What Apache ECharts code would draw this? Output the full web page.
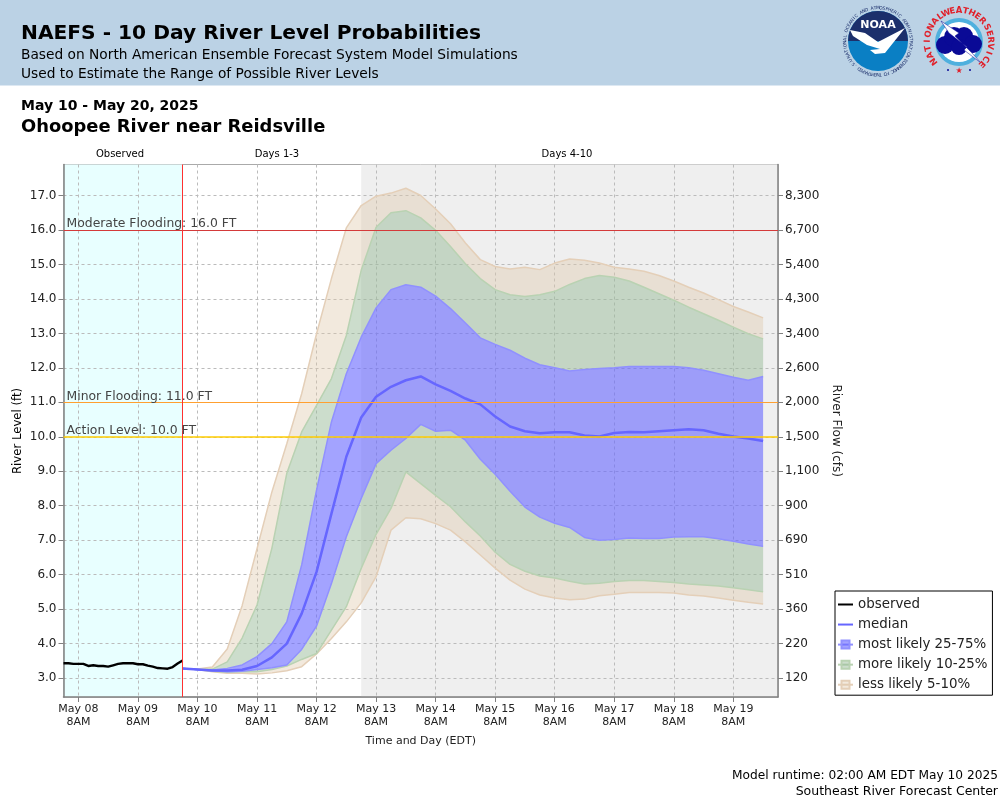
<!DOCTYPE html>
<html>

<head>
    <meta charset="utf-8">
    <title>NAEFS - 10 Day River Level Probabilities</title>
    <script src="https://cdn.jsdelivr.net/npm/echarts@6/dist/echarts.min.js"></script>
    <style>
        html, body { margin: 0; padding: 0; background: #fff; }
    </style>
</head>

<body>
<div id="main" style="position:absolute;top:0;left:0;width:1000px;height:800px;"></div>
<script type="text/javascript">

    // tick labels, stage and flow axes share the same positions
    var stageTicks = [3, 4, 5, 6, 7, 8, 9, 10, 11, 12, 13, 14, 15, 16, 17];
    var flowLabels = ['120', '220', '360', '510', '690', '900', '1,100', '1,500', '2,000', '2,600', '3,400', '4,300', '5,400', '6,700', '8,300'];
    var dayLabels = ['May 08', 'May 09', 'May 10', 'May 11', 'May 12', 'May 13', 'May 14', 'May 15', 'May 16', 'May 17', 'May 18', 'May 19'];

    // observed stage every 2 hours, from May 08 02:00
    var observed = [3.43, 3.43, 3.41, 3.41, 3.41, 3.35, 3.37, 3.35, 3.35, 3.33, 3.37, 3.41, 3.43,
        3.43, 3.43, 3.40, 3.40, 3.36, 3.33, 3.29, 3.28, 3.27, 3.32, 3.42, 3.51];

    // forecast percentiles every 6 hours, from May 10 02:00
    var median = [3.28, 3.25, 3.22, 3.22, 3.24, 3.35, 3.60, 4.00, 4.87, 6.08, 7.77, 9.42, 10.56, 11.16, 11.45, 11.64, 11.75, 11.52, 11.33, 11.11,
        10.94, 10.59, 10.30, 10.16, 10.10, 10.13, 10.13, 10.04, 10.01, 10.11, 10.14, 10.13, 10.16, 10.19, 10.22, 10.19, 10.09, 10.01, 9.95, 9.88];
    var p05 = [3.28, 3.25, 3.18, 3.14, 3.14, 3.12, 3.15, 3.21, 3.33, 3.70, 4.15, 4.63, 5.18, 5.94, 7.29, 7.65, 7.62, 7.48, 7.29, 6.95,
        6.57, 6.19, 5.84, 5.58, 5.41, 5.32, 5.27, 5.29, 5.39, 5.43, 5.48, 5.48, 5.48, 5.47, 5.41, 5.38, 5.32, 5.26, 5.20, 5.15];
    var p10 = [3.28, 3.25, 3.20, 3.17, 3.18, 3.18, 3.25, 3.35, 3.54, 3.71, 4.39, 5.07, 6.18, 7.17, 7.92, 8.98, 8.64, 8.30, 7.97, 7.53,
        7.12, 6.65, 6.30, 6.10, 5.96, 5.90, 5.81, 5.73, 5.75, 5.80, 5.83, 5.83, 5.80, 5.77, 5.73, 5.70, 5.67, 5.62, 5.56, 5.50];
    var p25 = [3.28, 3.25, 3.21, 3.18, 3.20, 3.25, 3.30, 3.38, 3.83, 4.51, 5.74, 7.10, 8.21, 9.22, 9.61, 9.95, 10.36, 10.16, 10.19, 9.90,
        9.35, 8.91, 8.42, 7.96, 7.67, 7.49, 7.37, 7.08, 7.00, 7.02, 7.06, 7.05, 7.05, 7.09, 7.10, 7.10, 7.04, 6.97, 6.89, 6.82];
    var p75 = [3.28, 3.25, 3.23, 3.28, 3.38, 3.62, 4.00, 4.63, 6.28, 8.45, 10.43, 11.83, 12.89, 13.74, 14.27, 14.41, 14.34, 14.08, 13.72, 13.30,
        12.87, 12.68, 12.51, 12.28, 12.09, 12.00, 11.91, 11.95, 11.98, 12.00, 12.04, 12.04, 12.04, 12.04, 12.00, 11.93, 11.83, 11.73, 11.64, 11.75];
    var p90 = [3.28, 3.25, 3.26, 3.47, 4.16, 5.12, 6.77, 8.94, 10.14, 10.91, 11.69, 12.94, 14.83, 16.08, 16.50, 16.56, 16.35, 15.99, 15.52, 15.02,
        14.59, 14.27, 14.12, 14.07, 14.12, 14.22, 14.42, 14.59, 14.68, 14.63, 14.52, 14.34, 14.15, 13.96, 13.76, 13.57, 13.38, 13.18, 12.99, 12.84];
    var p95 = [3.28, 3.26, 3.32, 3.84, 5.10, 6.75, 8.40, 9.80, 11.25, 12.99, 14.59, 16.06, 16.71, 16.98, 17.07, 17.21, 17.00, 16.61, 16.18, 15.62,
        15.14, 14.94, 14.87, 14.92, 14.85, 15.04, 15.16, 15.12, 15.04, 14.92, 14.87, 14.80, 14.68, 14.52, 14.34, 14.17, 13.98, 13.78, 13.62, 13.45];

    var floodNames = ['Moderate Flooding: 16.0 FT', 'Minor Flooding: 11.0 FT', 'Action Level: 10.0 FT'];
    var floodLevels = [16, 11, 10];
    var floodColors = ['#d43a3a', '#ffa030', '#ffcc00'];

    var HOUR = 3600 * 1000;
    var axisStart = new Date(2025, 4, 8, 2).getTime();
    var axisEnd = new Date(2025, 4, 20, 2).getTime();
    var forecastStart = new Date(2025, 4, 10, 2).getTime();
    var fadeStart = new Date(2025, 4, 13, 2).getTime();
    var font = '"DejaVu Sans"';

    var dayTicks = dayLabels.map(function (label, i) {
        return new Date(2025, 4, 8 + i, 8).getTime();
    });

    function observedPairs() {
        return observed.map(function (v, i) {
            return [axisStart + i * 2 * HOUR, v];
        });
    }

    function forecastPairs(values) {
        return values.map(function (v, i) {
            return [forecastStart + i * 6 * HOUR, v];
        });
    }

    // one polygon between two percentile curves, drawn once for the whole series
    function bandSeries(name, upper, lower, fill) {
        var top = forecastPairs(upper);
        var bottom = forecastPairs(lower).reverse();
        return {
            name: name,
            type: 'custom',
            coordinateSystem: 'cartesian2d',
            silent: true,
            data: top,
            encode: {x: 0, y: 1},
            renderItem: function (params, api) {
                if (params.dataIndex !== 0) return null;
                return {
                    type: 'polygon',
                    shape: {points: top.concat(bottom).map(function (p) { return api.coord(p); })},
                    style: {fill: fill}
                };
            }
        };
    }

    function edgeSeries(name, values, color, swatch) {
        return {
            name: name,
            type: 'line',
            data: forecastPairs(values),
            symbol: 'rect',
            showSymbol: false,
            silent: true,
            lineStyle: {color: color, width: 1.5},
            itemStyle: {color: swatch, borderColor: color, borderWidth: 1}
        };
    }

    var tan = 'rgba(222,200,170,0.4)', green = 'rgba(153,187,153,0.5)', blue = 'rgba(102,102,255,0.6)';
    var tanEdge = '#e4cfb8', greenEdge = '#b9d2b2', blueEdge = '#9090ff';

    var series = [
        {
            name: 'regions',
            type: 'line',
            data: [],
            markArea: {
                silent: true,
                data: [
                    [{xAxis: axisStart, itemStyle: {color: '#e8ffff'}}, {xAxis: forecastStart}],
                    [{xAxis: fadeStart, itemStyle: {color: '#efefef'}}, {xAxis: axisEnd}]
                ]
            }
        },
        bandSeries('band p05-p10', p10, p05, tan),
        bandSeries('band p10-p25', p25, p10, green),
        bandSeries('band p25-p75', p75, p25, blue),
        bandSeries('band p75-p90', p90, p75, green),
        bandSeries('band p90-p95', p95, p90, tan),
        edgeSeries('less likely 5-10%', p05, tanEdge, tan),
        edgeSeries('less upper', p95, tanEdge, tan),
        edgeSeries('more likely 10-25%', p10, greenEdge, green),
        edgeSeries('more upper', p90, greenEdge, green),
        edgeSeries('most likely 25-75%', p25, blueEdge, blue),
        edgeSeries('most upper', p75, blueEdge, blue),
        {
            name: 'median',
            type: 'line',
            data: forecastPairs(median),
            symbol: 'none',
            lineStyle: {color: '#6666ff', width: 2.5}
        },
        {
            name: 'observed',
            type: 'line',
            data: observedPairs(),
            symbol: 'none',
            lineStyle: {color: '#000', width: 2.4},
            markLine: {
                silent: true,
                symbol: 'none',
                animation: false,
                data: floodLevels.map(function (level, i) {
                    return {
                        yAxis: level,
                        lineStyle: {color: floodColors[i], width: i === 2 ? 1.5 : 1.2, type: 'solid'},
                        label: {
                            show: true,
                            position: 'insideStartTop',
                            formatter: floodNames[i],
                            distance: [3, 0],
                            color: '#444',
                            fontFamily: font,
                            fontSize: 12.4
                        }
                    };
                }).concat([{
                    xAxis: forecastStart,
                    lineStyle: {color: '#ff3030', width: 1, type: 'solid'},
                    label: {show: false}
                }])
            }
        }
    ];

    // header texts and logos
    function text(str, x, y, style, align) {
        return {
            type: 'text',
            silent: true,
            style: {text: str, x: x, y: y, font: style + ' ' + font, fill: '#000', textAlign: align || 'left', textVerticalAlign: 'middle'}
        };
    }

    function ringText(str, cx, cy, r, from, to, style, color) {
        return str.split('').map(function (ch, i) {
            var deg = from + (to - from) * i / (str.length - 1);
            var rad = deg * Math.PI / 180;
            return {
                type: 'text',
                silent: true,
                x: cx + r * Math.sin(rad),
                y: cy - r * Math.cos(rad),
                rotation: -rad,
                style: {text: ch, font: style + ' ' + font, fill: color, textAlign: 'center', textVerticalAlign: 'middle'}
            };
        });
    }

    function disc(cx, cy, r, color) {
        return {type: 'circle', silent: true, shape: {cx: cx, cy: cy, r: r}, style: {fill: color}};
    }

    var noaaLabel = text('NOAA', 878, 25, 'bold 11px', 'center');
    noaaLabel.style.fill = '#fff';
    var nwsStar = text('★', 959, 71, '8px', 'center');
    nwsStar.style.fill = '#e0202a';
    var stageName = text('River Level (ft)', 0, 0, '11.7px', 'center');
    stageName.x = 18;
    stageName.y = 431;
    stageName.rotation = Math.PI / 2;

    var graphics = [
        {type: 'rect', silent: true, z: -1, shape: {x: 0, y: 0, width: 1000, height: 85.5}, style: {fill: '#bbd2e5'}},
        text('NAEFS - 10 Day River Level Probabilities', 21, 34, 'bold 20.2px'),
        text('Based on North American Ensemble Forecast System Model Simulations', 21, 55, '13.75px'),
        text('Used to Estimate the Range of Possible River Levels', 21, 74, '13.75px'),
        text('May 10 - May 20, 2025', 21, 106, 'bold 14px'),
        text('Ohoopee River near Reidsville', 21, 127, 'bold 17.9px'),
        text('Observed', 120, 154, '10px', 'center'),
        text('Days 1-3', 277, 154, '10px', 'center'),
        text('Days 4-10', 567, 154, '10px', 'center'),
        text('Model runtime: 02:00 AM EDT May 10 2025', 998, 776, '12.2px', 'right'),
        text('Southeast River Forecast Center', 998, 792, '12.5px', 'right'),
        stageName,
        // NOAA
        disc(878, 41, 30, '#0a7fc4'),
        {type: 'sector', silent: true, shape: {cx: 878, cy: 41, r0: 0, r: 30, startAngle: Math.PI, endAngle: 2 * Math.PI}, style: {fill: '#1c2f6b'}},
        {type: 'polygon', silent: true, shape: {points: [[850, 30], [865, 33], [878, 42], [905, 28], [893, 43], [885, 53], [875, 54], [870, 50], [880, 49], [867, 45], [853, 36]]}, style: {fill: '#fff'}},
        noaaLabel
    ];
    graphics = graphics.concat(ringText('NATIONAL OCEANIC AND ATMOSPHERIC ADMINISTRATION', 878, 41, 33, -118, 118, '4.5px', '#1c2f6b'));
    graphics = graphics.concat(ringText('U.S. DEPARTMENT OF COMMERCE', 878, 41, 33.5, 235, 125, '4.5px', '#1c2f6b'));
    // NWS
    graphics = graphics.concat([
        disc(959, 42, 24, '#4fb0de'),
        disc(959, 42, 20, '#ffffff'),
        disc(945, 45, 9, '#0a0a96'), disc(954, 37, 10, '#0a0a96'), disc(964, 36, 9, '#0a0a96'),
        disc(973, 44, 9, '#0a0a96'), disc(959, 47, 8, '#0a0a96'),
        {type: 'polygon', silent: true, shape: {points: [[941, 21], [959, 33], [955, 36], [972, 53], [981, 63], [964, 50], [967, 47], [949, 33]]}, style: {fill: '#fff', stroke: '#0a0a96', lineWidth: 0.5}},
        nwsStar,
        disc(948, 70, 1, '#0a0a96'), disc(970, 70, 1, '#0a0a96')
    ]);
    graphics = graphics.concat(ringText('NATIONAL', 959, 42, 31.5, -128, -36, 'bold 8.5px', '#e0202a'));
    graphics = graphics.concat(ringText('WEATHER', 959, 42, 31.5, -24, 48, 'bold 8.5px', '#e0202a'));
    graphics = graphics.concat(ringText('SERVICE', 959, 42, 31.5, 62, 134, 'bold 8.5px', '#e0202a'));

    var myChart = echarts.init(document.getElementById('main'), null, {renderer: 'canvas'});

    function yAxis(position, labelFn, showSplit) {
        return {
            type: 'value',
            position: position,
            min: 2.45,
            max: 17.9,
            z: 1.5,
            axisLine: {show: true, onZero: false, lineStyle: {color: '#808080', width: 1.5}},
            axisTick: {show: true, length: 5, customValues: stageTicks, lineStyle: {color: '#808080', width: 1}},
            axisLabel: {customValues: stageTicks, color: '#222', fontFamily: font, fontSize: 12, margin: 7, formatter: labelFn},
            splitLine: {show: showSplit, lineStyle: {color: '#bbb', type: [3, 3], width: 1}}
        };
    }

    myChart.setOption({
        animation: false,
        textStyle: {fontFamily: font},
        graphic: graphics,
        grid: {left: 63.5, right: 222, top: 164.5, bottom: 103, show: true, borderColor: '#aaa', borderWidth: 1, backgroundColor: 'transparent'},
        legend: {
            left: 835,
            top: 591,
            orient: 'vertical',
            selectedMode: false,
            backgroundColor: '#fff',
            borderColor: '#000',
            borderWidth: 1,
            borderRadius: 0,
            padding: [7, 5, 4, 2],
            itemWidth: 15,
            itemHeight: 10,
            itemGap: 7.05,
            textStyle: {color: '#222', fontSize: 13.4, fontFamily: font},
            data: [
                {name: 'observed', itemStyle: {color: 'transparent', borderColor: 'transparent'}},
                {name: 'median', itemStyle: {color: 'transparent', borderColor: 'transparent'}},
                'most likely 25-75%',
                'more likely 10-25%',
                'less likely 5-10%'
            ]
        },
        xAxis: {
            type: 'value',
            min: axisStart,
            max: axisEnd,
            z: 1.5,
            name: 'Time and Day (EDT)',
            nameLocation: 'middle',
            nameGap: 39,
            nameTextStyle: {color: '#222', fontSize: 11, fontFamily: font},
            axisLine: {show: true, onZero: false, lineStyle: {color: '#808080', width: 1.5}},
            axisTick: {show: true, length: 5, customValues: dayTicks, lineStyle: {color: '#808080', width: 1}},
            axisLabel: {
                customValues: dayTicks,
                color: '#222',
                fontFamily: font,
                fontSize: 11,
                lineHeight: 13.5,
                margin: 5,
                hideOverlap: false,
                formatter: function (value) {
                    return dayLabels[dayTicks.indexOf(value)] + '\n8AM';
                }
            },
            splitLine: {show: true, lineStyle: {color: '#bbb', type: [3, 3], width: 1}}
        },
        yAxis: [
            yAxis('left', function (v) { return v.toFixed(1); }, true),
            Object.assign(yAxis('right', function (v) { return flowLabels[stageTicks.indexOf(v)]; }, false), {
                name: 'River Flow (cfs)',
                nameLocation: 'middle',
                nameGap: 44,
                nameRotate: -90,
                nameTextStyle: {color: '#222', fontSize: 12, fontFamily: font}
            })
        ],
        series: series
    });
</script>
</body>

</html>
